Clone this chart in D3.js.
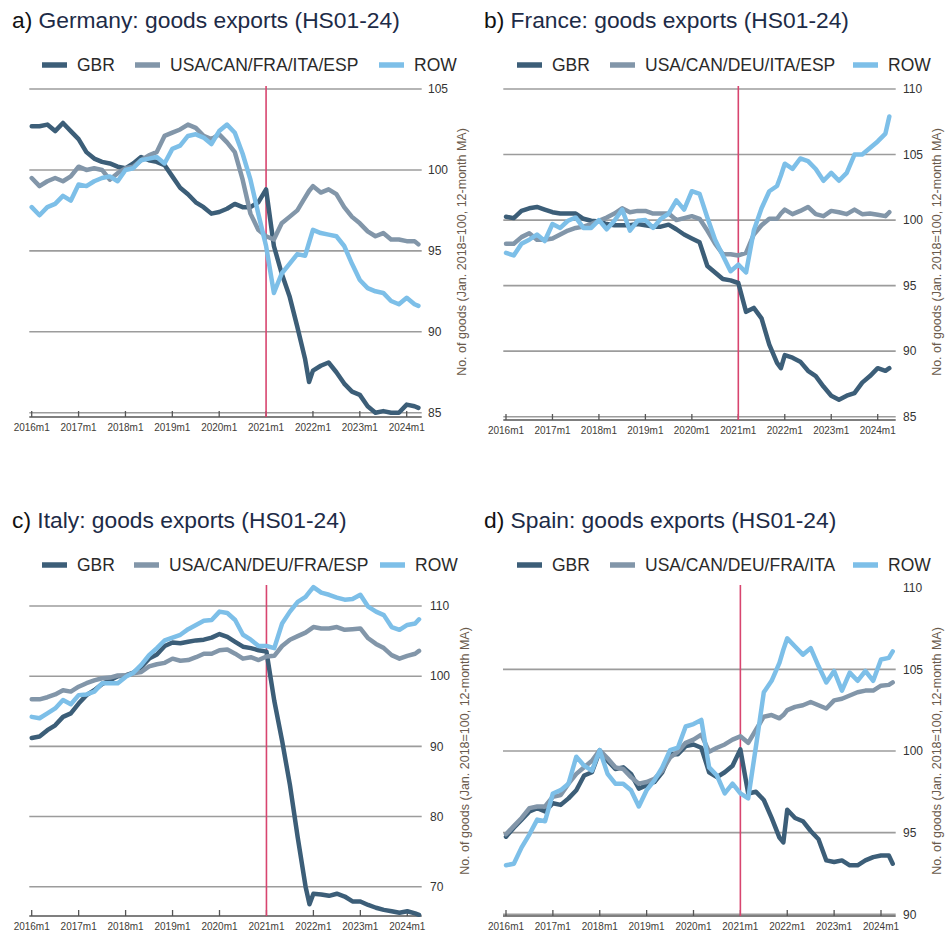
<!DOCTYPE html>
<html><head><meta charset="utf-8">
<script src="https://cdn.jsdelivr.net/npm/d3@7"></script>
<style>body{margin:0;background:#fff} svg{display:block;font-family:"Liberation Sans",Arial,sans-serif}</style>
</head><body><svg id="c" width="951" height="931"></svg>
<script>
// month index from 2016m1 (0) to 2024m4 (99)
const months = [0,2,4,6,8,10,12,14,16,18,20,22,24,26,28,30,32,34,36,38,40,42,44,46,48,50,52,54,56,58,60,62,64,66,68,70,71,72,74,76,78,80,82,84,86,88,90,92,94,96,98,99];
const xTickMonths = [0,12,24,36,48,60,72,84,96];
const xTickLabels = ["2016m1","2017m1","2018m1","2019m1","2020m1","2021m1","2022m1","2023m1","2024m1"];
const breakMonth = 60;
const yTitle = "No. of goods (Jan. 2018=100, 12-month MA)";

// Germany
const deGBR = [102.7,102.7,102.8,102.4,102.9,102.4,101.9,101.1,100.7,100.5,100.4,100.2,100.1,100.4,100.8,100.6,100.5,100.3,99.6,98.9,98.5,98.0,97.7,97.3,97.4,97.6,97.9,97.7,97.7,98.0,98.8,95.3,93.6,92.2,90.3,88.3,86.9,87.6,87.9,88.1,87.5,86.8,86.3,86.1,85.4,85.0,85.1,85.0,85.0,85.5,85.4,85.3];
const deOther = [99.5,99.0,99.3,99.5,99.3,99.6,100.2,100.0,100.1,100.0,99.4,99.8,100.1,100.2,100.6,100.9,101.1,102.1,102.3,102.5,102.8,102.6,102.1,101.9,102.2,101.7,101.1,99.4,97.3,96.3,95.9,95.7,96.7,97.1,97.5,98.3,98.7,99.0,98.6,98.8,98.5,97.7,97.1,96.7,96.2,95.9,96.1,95.7,95.7,95.6,95.6,95.4];
const deROW = [97.7,97.2,97.7,97.9,98.4,98.1,99.1,99.0,99.3,99.5,99.6,99.3,100.0,100.1,100.6,100.7,100.8,100.4,101.3,101.5,102.1,102.2,102.0,101.6,102.4,102.8,102.3,101.0,99.4,97.3,95.3,92.4,93.6,94.2,94.8,94.7,95.5,96.3,96.1,96.0,95.9,95.3,94.2,93.2,92.7,92.5,92.4,91.9,91.7,92.1,91.7,91.6];
// France
const frGBR = [100.25,100.15,100.7,100.9,101.0,100.8,100.6,100.5,100.5,100.5,100.1,99.95,99.9,99.7,99.6,99.6,99.6,99.7,99.6,99.5,99.5,99.65,99.3,98.9,98.6,98.3,96.5,96.0,95.5,95.4,95.2,93.0,93.3,92.5,90.5,89.1,88.7,89.7,89.5,89.2,88.5,88.1,87.3,86.6,86.3,86.6,86.8,87.6,88.1,88.7,88.5,88.7];
const frOther = [98.2,98.2,98.7,99.0,98.5,98.5,98.6,98.9,99.2,99.4,99.5,99.7,99.95,100.2,100.5,100.9,100.6,100.7,100.7,100.5,100.5,100.5,100.0,100.15,100.3,100.1,99.2,98.2,97.4,97.4,97.3,97.5,98.9,99.6,100.1,100.1,100.5,100.8,100.45,100.7,101.0,100.45,100.3,100.7,100.6,100.45,100.8,100.45,100.5,100.4,100.3,100.6];
const frROW = [97.5,97.3,98.2,98.5,98.9,98.4,99.7,99.4,99.95,100.2,99.4,99.4,100.0,99.3,99.95,100.8,99.2,99.95,100.0,99.4,100.1,100.5,101.5,100.8,102.2,102.0,100.2,98.5,97.3,96.1,96.6,96.0,99.2,100.9,102.2,102.6,103.4,104.3,103.9,104.7,104.5,103.9,103.0,103.6,103.0,103.6,105.0,105.0,105.5,106.0,106.6,107.9];
// Italy
const itGBR = [91.2,91.4,92.3,93.0,94.2,94.7,96.1,97.3,98.0,98.9,99.4,100.0,100.1,100.5,101.3,102.5,103.1,104.3,104.8,104.7,104.9,105.1,105.2,105.5,106.0,105.6,104.9,104.2,104.0,103.7,103.5,96.5,90.8,84.5,77.0,70.0,67.5,69.0,68.9,68.7,69.0,68.6,67.9,67.9,67.4,67.0,66.7,66.5,66.3,66.5,66.2,66.0];
const itOther = [96.7,96.7,97.0,97.4,98.0,97.8,98.5,99.0,99.4,99.7,99.8,100.1,100.1,100.4,100.6,101.4,101.7,101.9,102.5,102.2,102.3,102.7,103.2,103.2,103.7,103.8,103.2,102.5,102.7,102.3,102.8,102.9,104.3,105.2,105.7,106.2,106.6,107.0,106.8,106.8,107.0,106.6,106.7,106.8,105.4,104.6,104.0,103.0,102.5,102.9,103.2,103.6];
const itROW = [94.2,94.0,94.7,95.4,96.6,96.0,97.3,97.4,97.8,99.0,99.0,99.0,99.9,100.5,101.6,103.0,104.0,105.1,105.5,105.9,106.7,107.3,107.9,108.0,109.2,109.0,108.0,105.9,105.2,104.3,104.3,104.0,107.5,109.2,110.6,111.3,112.0,112.7,111.9,111.6,111.2,110.9,111.0,111.6,109.9,109.2,108.7,107.0,106.6,107.3,107.5,108.1];
// Spain
const esGBR = [94.75,95.3,95.8,96.3,96.5,96.3,96.8,96.7,97.1,97.6,98.5,98.7,100.0,99.4,98.9,99.0,98.6,97.7,97.9,98.1,98.7,99.8,99.8,100.3,100.4,100.2,98.7,98.4,98.7,99.1,100.1,97.4,97.5,97.0,95.9,94.7,94.4,96.4,95.9,95.7,95.1,94.6,93.3,93.2,93.3,93.0,93.0,93.3,93.5,93.6,93.6,93.1];
const esOther = [94.9,95.4,95.9,96.5,96.6,96.6,97.2,97.3,98.0,98.6,99.0,99.4,100.05,99.55,99.0,98.9,98.4,98.0,98.1,98.3,98.8,99.6,99.95,100.5,100.7,101.0,99.95,100.2,100.4,100.7,100.9,100.5,101.3,102.1,102.2,102.0,102.2,102.5,102.7,102.8,103.0,102.8,102.6,103.1,103.2,103.4,103.6,103.7,103.7,104.0,104.05,104.2];
const esROW = [93.0,93.1,94.1,94.9,95.8,95.7,97.4,97.6,98.0,99.65,99.1,98.8,100.05,98.6,98.0,98.0,97.6,96.6,97.6,98.2,99.0,100.05,100.2,101.5,101.65,101.9,99.0,98.5,97.4,98.0,97.4,97.1,100.3,103.6,104.3,105.4,106.2,106.9,106.4,105.9,106.3,105.2,104.2,104.9,103.7,104.8,104.3,104.9,104.3,105.6,105.7,106.1];

const deYTicks = [85,90,95,100,105];
const frYTicks = [85,90,95,100,105,110];
const itYTicks = [70,80,90,100,110];
const esYTicks = [90,95,100,105,110];
const esGrid = [90,95,100,105];

const deLegend = ["GBR","USA/CAN/FRA/ITA/ESP","ROW"];
const frLegend = ["GBR","USA/CAN/DEU/ITA/ESP","ROW"];
const itLegend = ["GBR","USA/CAN/DEU/FRA/ESP","ROW"];
const esLegend = ["GBR","USA/CAN/DEU/FRA/ITA","ROW"];

const colors = ["#3c5e78","#8296a9","#7dbfe8"];

const panels = [
  {lab:"a)", title:" Germany: goods exports (HS01-24)", legend:deLegend, series:[deGBR,deOther,deROW],
   oy:0, xr:[31.7,406.7], yd:[85,105], yr:[412.7,89], axisY:417, redTop:86, yt:deYTicks, grid:deYTicks, gx:[29.3,421.7], tx:428, ttx:462, tty:252, lx:[42,135,379]},
  {lab:"b)", title:" France: goods exports (HS01-24)", legend:frLegend, series:[frGBR,frOther,frROW],
   oy:0, xr:[506,877.7], yd:[85,110], yr:[416.7,89], axisY:420, redTop:86, yt:frYTicks, grid:frYTicks, gx:[503.3,895.7], tx:903, ttx:937, tty:252, lx:[517,610,853]},
  {lab:"c)", title:" Italy: goods exports (HS01-24)", legend:itLegend, series:[itGBR,itOther,itROW],
   oy:500, xr:[31.7,407.3], yd:[70,110], yr:[886.7,606], axisY:916, redTop:585, yt:itYTicks, grid:itYTicks, gx:[29.3,421.7], tx:430, ttx:465, tty:751, lx:[42,134,380]},
  {lab:"d)", title:" Spain: goods exports (HS01-24)", legend:esLegend, series:[esGBR,esOther,esROW],
   oy:500, xr:[506,881], yd:[90,110], yr:[914.3,587.7], axisY:916, redTop:585, yt:esYTicks, grid:esGrid, gx:[503,895.7], tx:903, ttx:937, tty:751, lx:[517,610,853]}
];
const titleX = [12,484,12,484];

const svg = d3.select("#c");
panels.forEach((p,i)=>{
  const g = svg.append("g");
  const x = d3.scaleLinear().domain([0,96]).range(p.xr);
  const y = d3.scaleLinear().domain(p.yd).range(p.yr);
  const t = g.append("text").attr("x",titleX[i]).attr("y",p.oy+28).attr("font-size",22.8);
  t.append("tspan").attr("fill","#111").text(p.lab);
  t.append("tspan").attr("fill","#1d2b47").text(p.title);
  p.legend.forEach((name,k)=>{
    const ly = p.oy+65;
    g.append("line").attr("x1",p.lx[k]).attr("x2",p.lx[k]+25).attr("y1",ly).attr("y2",ly)
      .attr("stroke",colors[k]).attr("stroke-width",5.5);
    g.append("text").attr("x",p.lx[k]+35).attr("y",ly).attr("dy","0.35em")
      .attr("font-size",17.5).attr("fill","#2a2a2a").text(name);
  });
  g.selectAll(null).data(p.grid).enter().append("line")
    .attr("x1",p.gx[0]).attr("x2",p.gx[1]).attr("y1",d=>y(d)).attr("y2",d=>y(d))
    .attr("stroke","#9c9c9c").attr("stroke-width",1.6);
  g.selectAll(null).data(p.yt).enter().append("text")
    .attr("x",p.tx).attr("y",d=>y(d)).attr("dy","0.35em").attr("font-size",12).attr("fill","#333")
    .text(d=>d);
  g.append("text").attr("transform",`translate(${p.ttx},${p.tty}) rotate(-90)`)
    .attr("text-anchor","middle").attr("dy","0.35em").attr("font-size",12.5).attr("fill","#6a5a4c").text(yTitle);
  g.append("line").attr("x1",p.gx[0]).attr("x2",p.gx[1]).attr("y1",p.axisY).attr("y2",p.axisY)
    .attr("stroke","#555").attr("stroke-width",1.3);
  g.selectAll(null).data(xTickMonths).enter().append("line")
    .attr("x1",d=>x(d)).attr("x2",d=>x(d)).attr("y1",p.axisY-6).attr("y2",p.axisY)
    .attr("stroke","#555").attr("stroke-width",1.3);
  g.selectAll(null).data(xTickMonths).enter().append("text")
    .attr("x",d=>x(d)).attr("y",p.axisY+14).attr("text-anchor","middle").attr("font-size",10).attr("fill","#423d38")
    .text((d,j)=>xTickLabels[j]);
  g.append("line").attr("x1",x(breakMonth)).attr("x2",x(breakMonth)).attr("y1",p.redTop).attr("y2",p.axisY)
    .attr("stroke","#d8456f").attr("stroke-width",1.6);
  const line = d3.line().x((d,j)=>x(months[j])).y(d=>y(d));
  p.series.forEach((s,k)=>{
    g.append("path").attr("d",line(s)).attr("fill","none").attr("stroke",colors[k])
      .attr("stroke-width",4.5).attr("stroke-linejoin","round").attr("stroke-linecap","round");
  });
});
</script></body></html>
